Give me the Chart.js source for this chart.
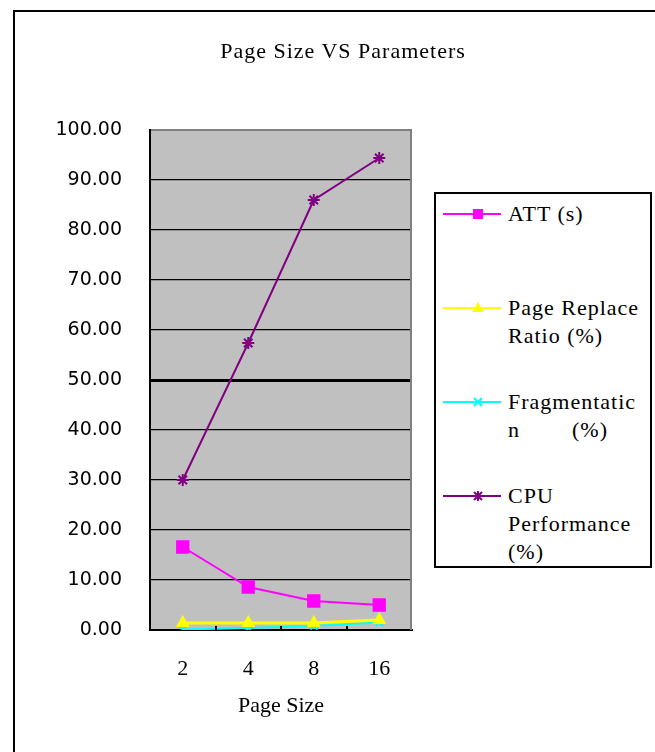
<!DOCTYPE html>
<html>
<head>
<meta charset="utf-8">
<script src="https://cdn.jsdelivr.net/npm/chart.js@4.4.1/dist/chart.umd.min.js"></script>
<style>
  html, body { margin: 0; padding: 0; background: #fff; overflow: hidden; }
  #wrap { position: relative; width: 655px; height: 752px; }
  #frame { position: absolute; left: 13px; top: 10px; width: 700px; height: 800px; border: 2px solid #000; box-sizing: border-box; }
  #chart { position: absolute; left: 0; top: 0; }
  #title { position: absolute; left: 143px; width: 400px; top: 38px; text-align: center;
           font: 22px "Liberation Serif", serif; letter-spacing: 1px; color: #000; }
  #legend { position: absolute; left: 434px; top: 192px; width: 218px; height: 376px;
            border: 2px solid #000; box-sizing: border-box; background: #fff;
            font: 22px "Liberation Serif", serif; letter-spacing: 1px; color: #000; }
  .item { position: absolute; left: 0; width: 214px; }
  .item svg { position: absolute; left: 7px; }
  .item .txt { position: absolute; left: 72px; line-height: 28px; white-space: pre; }
</style>
</head>
<body>
<div id="wrap">
  <div id="frame"></div>
  <canvas id="chart" width="655" height="752"></canvas>
  <div id="title">Page Size VS Parameters</div>
  <div id="legend"></div>
</div>
<script>
// Page sizes on the x axis
const pageSizes = ['2', '4', '8', '16'];

// Measured parameters per page size
const attSeconds = [16.6, 8.6, 5.8, 5.0];
const pageReplaceRatio = [1.4, 1.4, 1.4, 2.0];
const fragmentation = [0.1, 0.4, 0.8, 1.5];
const cpuPerformance = [30.0, 57.4, 86.0, 94.4];

// Legend text, one entry per line
const legendLines = [
  ['ATT (s)'],
  ['Page Replace', 'Ratio (%)'],
  ['Fragmentatic', 'n        (%)'],
  ['CPU', 'Performance', '(%)']
];

const seriesStyles = [
  { color: '#FF00FF', width: 2, point: 'rect', radius: 8 },
  { color: '#FFFF00', width: 3, point: 'triangle', radius: 6 },
  { color: '#00FFFF', width: 2, point: 'crossRot', radius: 5 },
  { color: '#800080', width: 2, point: 'star', radius: 6 }
];
const seriesData = [attSeconds, pageReplaceRatio, fragmentation, cpuPerformance];

const plotBackground = {
  id: 'plotBackground',
  beforeDraw(chart) {
    const { ctx, chartArea: a } = chart;
    ctx.save();
    ctx.fillStyle = '#C0C0C0';
    ctx.fillRect(a.left, a.top, a.right - a.left, a.bottom - a.top);
    ctx.restore();
  },
  afterDatasetsDraw(chart) {
    const { ctx, chartArea: a } = chart;
    const x = chart.scales.x;
    ctx.save();
    // grey frame on the right side of the plot
    ctx.strokeStyle = '#808080';
    ctx.lineWidth = 2;
    ctx.beginPath();
    ctx.moveTo(a.right - 1, a.top);
    ctx.lineTo(a.right - 1, a.bottom);
    ctx.stroke();
    // small inward tick marks between categories
    ctx.strokeStyle = '#000';
    ctx.lineWidth = 2;
    for (let i = 1; i < pageSizes.length; i++) {
      const px = Math.round((x.getPixelForValue(i - 1) + x.getPixelForValue(i)) / 2);
      ctx.beginPath();
      ctx.moveTo(px, a.bottom);
      ctx.lineTo(px, a.bottom - 4);
      ctx.stroke();
    }
    ctx.restore();
  }
};

new Chart(document.getElementById('chart'), {
  type: 'line',
  data: {
    labels: pageSizes,
    datasets: seriesData.map((values, i) => ({
      label: legendLines[i].join(' '),
      data: values,
      borderColor: seriesStyles[i].color,
      backgroundColor: seriesStyles[i].color,
      borderWidth: seriesStyles[i].width,
      pointStyle: seriesStyles[i].point,
      pointRadius: seriesStyles[i].radius,
      pointBorderWidth: 2,
      pointBorderColor: seriesStyles[i].color,
      pointBackgroundColor: seriesStyles[i].color,
      tension: 0,
      fill: false
    }))
  },
  options: {
    responsive: false,
    animation: false,
    layout: { padding: { top: 130, right: 243, bottom: 0, left: 0 } },
    plugins: {
      legend: { display: false },
      title: { display: false },
      tooltip: { enabled: false }
    },
    scales: {
      x: {
        offset: true,
        grid: { display: false },
        border: { color: '#000', width: 2 },
        ticks: {
          color: '#000',
          padding: 18,
          font: { family: 'Liberation Serif', size: 22 }
        },
        title: {
          display: true,
          text: 'Page Size',
          color: '#000',
          font: { family: 'Liberation Serif', size: 22 },
          padding: { top: 0, bottom: 33 }
        },
        afterFit(scale) { scale.height = 122; }
      },
      y: {
        min: 0,
        max: 100,
        grid: {
          drawTicks: false,
          color: (c) => (c.tick && c.tick.value === 100 ? '#808080' : '#000'),
          lineWidth: (c) => {
            if (!c.tick) return 1.3;
            if (c.tick.value === 50) return 3;
            if (c.tick.value === 100) return 2;
            return 1.3;
          }
        },
        border: { color: '#000', width: 2 },
        ticks: {
          stepSize: 10,
          color: '#000',
          padding: 28,
          font: { family: 'DejaVu Sans', size: 19 },
          callback: (v) => Number(v).toFixed(2)
        },
        afterFit(scale) { scale.width = 150; }
      }
    }
  },
  plugins: [plotBackground]
});

// Legend: a line sample with its marker, then the wrapped label text
const legendTops = [6, 100, 194, 288];
const legendEl = document.getElementById('legend');
legendLines.forEach((lines, i) => {
  const s = seriesStyles[i];
  const item = document.createElement('div');
  item.className = 'item';
  item.style.top = legendTops[i] + 'px';
  const cy = 14;
  let marker = '';
  if (s.point === 'rect') marker = `<rect x="30" y="${cy - 5}" width="10" height="10" fill="${s.color}"/>`;
  if (s.point === 'triangle') marker = `<polygon points="35,${cy - 6} 41,${cy + 4} 29,${cy + 4}" fill="${s.color}"/>`;
  if (s.point === 'crossRot') marker = `<path d="M31 ${cy - 4} L39 ${cy + 4} M39 ${cy - 4} L31 ${cy + 4}" stroke="${s.color}" stroke-width="2"/>`;
  if (s.point === 'star') marker = `<path d="M31 ${cy - 4} L39 ${cy + 4} M39 ${cy - 4} L31 ${cy + 4} M35 ${cy - 5} L35 ${cy + 5}" stroke="${s.color}" stroke-width="2"/>`;
  item.innerHTML =
    `<svg width="60" height="28"><line x1="0" y1="${cy}" x2="58" y2="${cy}" stroke="${s.color}" stroke-width="${s.width === 3 ? 2 : s.width}"/>${marker}</svg>` +
    `<div class="txt">${lines.join('\n')}</div>`;
  legendEl.appendChild(item);
});
</script>
</body>
</html>
